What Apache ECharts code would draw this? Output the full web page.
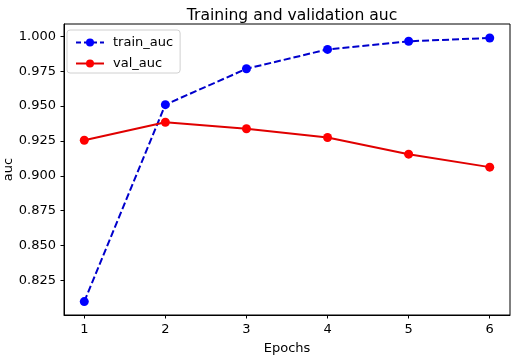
<!DOCTYPE html>
<html>
<head>
<meta charset="utf-8">
<script src="https://cdn.jsdelivr.net/npm/echarts@6/dist/echarts.min.js"></script>
<style>html,body{margin:0;padding:0;background:#fff;}#c{width:519px;height:356px;}</style>
</head>
<body>
<div id="c"></div>
<script>
const epochs = [1, 2, 3, 4, 5, 6];
const trainAuc = [0.8098, 0.9510, 0.9767, 0.9906, 0.9964, 0.9988];
const valAuc = [0.9255, 0.9384, 0.9337, 0.9274, 0.9155, 0.9062];
const xTicks = [1, 2, 3, 4, 5, 6];
const yTicks = [0.825, 0.850, 0.875, 0.900, 0.925, 0.950, 0.975, 1.000];

const font = 'DejaVu Sans';
const chart = echarts.init(document.getElementById('c'), null, {renderer: 'canvas'});
chart.setOption({
  animation: false,
  backgroundColor: '#fff',
  title: {
    text: 'Training and validation auc',
    left: 287, top: 3, textAlign: 'center',
    textStyle: {fontFamily: font, fontSize: 15.6, fontWeight: 'normal', color: '#000'}
  },
  grid: {left: 64, right: 9, top: 24, bottom: 41, show: true, borderColor: '#000', borderWidth: 1, containLabel: false, outerBoundsMode: 'none'},
  legend: {
    left: 67, top: 30, orient: 'vertical',
    padding: [6, 7, 3, 8],
    itemWidth: 28, itemHeight: 10, itemGap: 8,
    borderColor: '#d0d0d0', borderWidth: 1, borderRadius: 3,
    backgroundColor: 'rgba(255,255,255,0.8)',
    textStyle: {fontFamily: font, fontSize: 13, color: '#000', padding: [0, 0, 0, 4]},
    data: [
      {name: 'train_auc', lineStyle: {type: [5, 3], width: 2}},
      {name: 'val_auc', lineStyle: {width: 2}}
    ]
  },
  xAxis: {
    type: 'value', min: 0.75, max: 6.25,
    name: 'Epochs', nameLocation: 'middle', nameGap: 27,
    nameMoveOverlap: false,
    nameTextStyle: {fontFamily: font, fontSize: 13, color: '#000'},
    axisLine: {show: true, lineStyle: {color: '#000', width: 1}},
    axisTick: {show: true, inside: false, length: 3.5, customValues: xTicks, lineStyle: {color: '#000'}},
    axisLabel: {customValues: xTicks, margin: 8, fontFamily: font, fontSize: 13, color: '#000', formatter: v => String(v)},
    splitLine: {show: false}
  },
  yAxis: {
    type: 'value', min: 0.8002, max: 1.0088,
    name: 'auc', nameLocation: 'middle', nameGap: 49,
    nameMoveOverlap: false,
    nameTextStyle: {fontFamily: font, fontSize: 13, color: '#000'},
    axisLine: {show: true, lineStyle: {color: '#000', width: 1}},
    axisTick: {show: true, inside: false, length: 3.5, customValues: yTicks, lineStyle: {color: '#000'}},
    axisLabel: {customValues: yTicks, margin: 8, fontFamily: font, fontSize: 13, color: '#000', formatter: v => v.toFixed(3)},
    splitLine: {show: false}
  },
  series: [
    {
      name: 'train_auc', type: 'line',
      data: epochs.map((e, i) => [e, trainAuc[i]]),
      symbol: 'circle', symbolSize: 9,
      itemStyle: {color: '#0000ff'},
      lineStyle: {color: '#0000cc', width: 2, type: [7, 3]}
    },
    {
      name: 'val_auc', type: 'line',
      data: epochs.map((e, i) => [e, valAuc[i]]),
      symbol: 'circle', symbolSize: 9,
      itemStyle: {color: '#ff0000'},
      lineStyle: {color: '#e00000', width: 2}
    }
  ]
});
</script>
</body>
</html>
